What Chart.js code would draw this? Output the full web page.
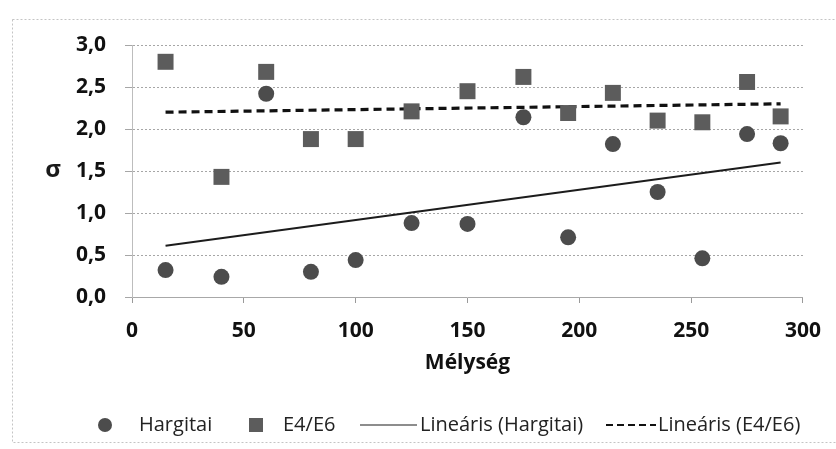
<!DOCTYPE html>
<html lang="hu">
<head>
<meta charset="UTF-8">
<title>Mélység – σ</title>
<script src="https://cdn.jsdelivr.net/npm/chart.js"></script>
<style>
  html, body { margin: 0; padding: 0; background: #fff; }
</style>
</head>
<body>
<canvas id="chart" width="836" height="449"></canvas>

<script>
    // Depth (x) of the samples and the two measured series
    const depth = [15, 40, 60, 80, 100, 125, 150, 175, 195, 215, 235, 255, 275, 290];
    const hargitai = [0.32, 0.24, 2.42, 0.30, 0.44, 0.88, 0.87, 2.14, 0.71, 1.82, 1.25, 0.46, 1.94, 1.83];
    const e4e6 = [2.80, 1.43, 2.68, 1.88, 1.88, 2.21, 2.45, 2.62, 2.19, 2.43, 2.10, 2.08, 2.56, 2.15];

    // Linear trend lines, end points
    const trendDepth = [15, 290];
    const trendHargitai = [0.61, 1.60];
    const trendE4e6 = [2.20, 2.30];

    const seriesLabels = ['Hargitai', 'E4/E6', 'Lineáris (Hargitai)', 'Lineáris (E4/E6)'];
    const xTitle = 'Mélység';
    const yTitle = 'σ';

    const toPoints = (xs, ys) => xs.map((x, i) => ({ x: x, y: ys[i] }));

    // white page + faint dotted frame around the whole chart
    const framePlugin = {
        id: 'frame',
        beforeDraw(chart) {
            const ctx = chart.ctx;
            ctx.save();
            ctx.fillStyle = '#fff';
            ctx.fillRect(0, 0, chart.width, chart.height);
            ctx.strokeStyle = '#c4c4c4';
            ctx.setLineDash([2, 2]);
            ctx.lineWidth = 1;
            ctx.strokeRect(12.5, 19.5, 840, 423);
            ctx.restore();
        }
    };

    // unrotated y axis title, drawn left of the tick labels
    const sigmaPlugin = {
        id: 'sigma',
        afterDraw(chart) {
            const ctx = chart.ctx;
            const area = chart.chartArea;
            ctx.save();
            ctx.font = 'bold 24px "Open Sans"';
            ctx.fillStyle = '#1a1a1a';
            ctx.textAlign = 'center';
            ctx.textBaseline = 'middle';
            ctx.fillText(yTitle, 53, (area.top + area.bottom) / 2 - 1);
            ctx.restore();
        }
    };

    // legend in one row under the x axis title, with long line samples
    // (marker start, marker width, text start)
    const legendLayout = [
        { x: 98, mark: 14, text: 139 },
        { x: 249, mark: 14, text: 283 },
        { x: 360, mark: 57, text: 420 },
        { x: 606, mark: 50, text: 658 }
    ];
    const legendPlugin = {
        id: 'rowLegend',
        afterDraw(chart) {
            const ctx = chart.ctx;
            const y = 425;
            ctx.save();
            ctx.font = '20px "Open Sans"';
            ctx.textBaseline = 'middle';
            chart.data.datasets.forEach((ds, i) => {
                const lay = legendLayout[i];
                if (ds.showLine) {
                    ctx.strokeStyle = ds.borderColor;
                    ctx.lineWidth = ds.borderWidth > 2 ? 2 : 1.2;
                    ctx.setLineDash(ds.borderDash ? [7, 4] : []);
                    ctx.beginPath();
                    ctx.moveTo(lay.x, y);
                    ctx.lineTo(lay.x + lay.mark, y);
                    ctx.stroke();
                    ctx.setLineDash([]);
                } else {
                    ctx.fillStyle = ds.backgroundColor;
                    ctx.beginPath();
                    if (ds.pointStyle === 'rect') {
                        ctx.rect(lay.x, y - lay.mark / 2, lay.mark, lay.mark);
                    } else {
                        ctx.arc(lay.x + lay.mark / 2, y, lay.mark / 2, 0, Math.PI * 2);
                    }
                    ctx.fill();
                }
                ctx.fillStyle = '#222';
                ctx.fillText(ds.label, lay.text, y);
            });
            ctx.restore();
        }
    };

    const ctx = document.getElementById('chart').getContext('2d');
    const chart = new Chart(ctx, {
        type: 'scatter',
        data: {
            datasets: [
                {
                    label: seriesLabels[0],
                    data: toPoints(depth, hargitai),
                    pointStyle: 'circle',
                    pointRadius: 8,
                    backgroundColor: '#4c4c4c',
                    borderWidth: 0
                },
                {
                    label: seriesLabels[1],
                    data: toPoints(depth, e4e6),
                    pointStyle: 'rect',
                    pointRadius: 11.3,
                    backgroundColor: '#5c5c5c',
                    borderWidth: 0
                },
                {
                    label: seriesLabels[2],
                    data: toPoints(trendDepth, trendHargitai),
                    showLine: true,
                    pointRadius: 0,
                    borderColor: '#1c1c1c',
                    borderWidth: 2
                },
                {
                    label: seriesLabels[3],
                    data: toPoints(trendDepth, trendE4e6),
                    showLine: true,
                    pointRadius: 0,
                    borderColor: '#111',
                    borderWidth: 3.2,
                    borderDash: [8, 5]
                }
            ]
        },
        options: {
            responsive: false,
            animation: false,
            layout: { padding: { top: 45, right: 33, bottom: 72, left: 0 } },
            plugins: {
                legend: { display: false },
                tooltip: { enabled: false }
            },
            scales: {
                x: {
                    type: 'linear',
                    min: 0,
                    max: 300,
                    ticks: {
                        stepSize: 50,
                        padding: 15,
                        color: '#111',
                        font: { family: 'Open Sans', size: 21, weight: 'bold' }
                    },
                    grid: { drawOnChartArea: false, drawTicks: true, tickLength: 6, color: '#9a9a9a' },
                    border: { display: true, color: '#a8a8a8' },
                    title: {
                        display: true,
                        text: xTitle,
                        color: '#111',
                        padding: { top: 0, bottom: 1 },
                        font: { family: 'Open Sans', size: 21, weight: 'bold' }
                    },
                    afterFit: (s) => { s.height = 80; }
                },
                y: {
                    min: 0,
                    max: 3,
                    ticks: {
                        stepSize: 0.5,
                        padding: 19,
                        color: '#111',
                        font: { family: 'Open Sans', size: 21, weight: 'bold' },
                        callback: (v) => v.toFixed(1).replace('.', ',')
                    },
                    grid: { color: '#a6a6a6', tickLength: 7, lineWidth: 1 },
                    border: { display: true, color: '#bdbdbd', dash: [2, 2] },
                    afterFit: (s) => { s.width = 132; }
                }
            }
        },
        plugins: [framePlugin, sigmaPlugin, legendPlugin]
    });
</script>
</body>
</html>
